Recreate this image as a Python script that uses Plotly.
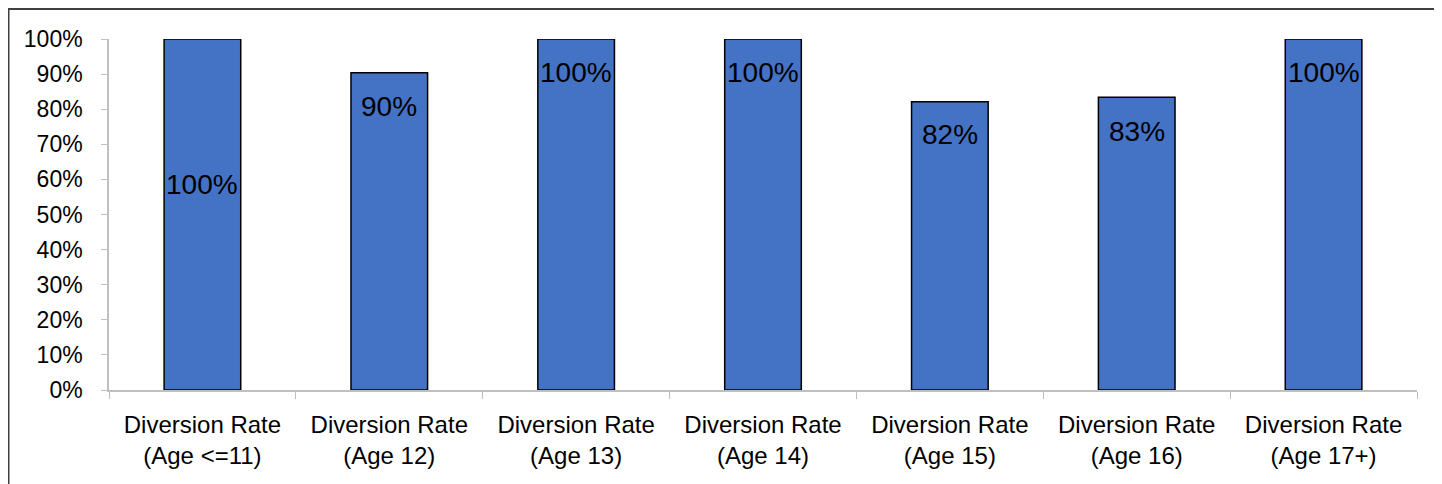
import plotly.graph_objects as go

categories = ["Diversion Rate<br>(Age <=11)", "Diversion Rate<br>(Age 12)", "Diversion Rate<br>(Age 13)",
              "Diversion Rate<br>(Age 14)", "Diversion Rate<br>(Age 15)", "Diversion Rate<br>(Age 16)",
              "Diversion Rate<br>(Age 17+)"]
values = [1.00, 0.904, 1.00, 1.00, 0.821, 0.834, 1.00]
label_shift = [-145, -34, -33, -33, -33, -34, -33]

fig = go.Figure()
fig.add_trace(go.Bar(
    x=categories, y=values,
    marker=dict(color="#4472C4", line=dict(color="#000000", width=1.5)),
    hoverinfo="skip",
))

for c, v, s in zip(categories, values, label_shift):
    fig.add_annotation(x=c, y=v, text=f"{v:.0%}", showarrow=False, yshift=s,
                       font=dict(family="Liberation Sans, Arial", size=28, color="#000000"))

# page has 8px body margin: figure origin is at page (8, 8)
W, H = 1434, 476
ml, mr, mt, mb = 101, 25, 31, 94
pw, ph = W - ml - mr, H - mt - mb
fig.add_shape(type="rect", xref="paper", yref="paper",
              x0=(0.5 - ml) / pw, x1=(W + 5 - ml) / pw,
              y0=-(mb + 5) / ph, y1=1 + (mt - 1) / ph,
              line=dict(color="#404040", width=2), fillcolor="rgba(0,0,0,0)", layer="below")

fig.update_layout(
    width=W, height=H,
    margin=dict(l=ml, r=mr, t=mt, b=mb, autoexpand=False),
    paper_bgcolor="white", plot_bgcolor="white",
    bargap=0.59, showlegend=False,
    font=dict(family="Liberation Sans, Arial", size=23, color="#000000"),
    xaxis=dict(showline=True, linecolor="#BFBFBF", linewidth=1.5, ticks="outside",
               tickson="boundaries", ticklen=7, tickcolor="#BFBFBF", showgrid=False,
               tickfont=dict(size=24), ticklabelstandoff=12, automargin=False),
    yaxis=dict(range=[0, 1], dtick=0.1, tickformat=".0%", showline=True, linecolor="#BFBFBF",
               linewidth=1.5, ticks="outside", ticklen=6, tickcolor="#BFBFBF", showgrid=False,
               zeroline=False, ticklabelstandoff=14, tickfont=dict(size=23), automargin=False),
)

fig.write_html("out.html")
